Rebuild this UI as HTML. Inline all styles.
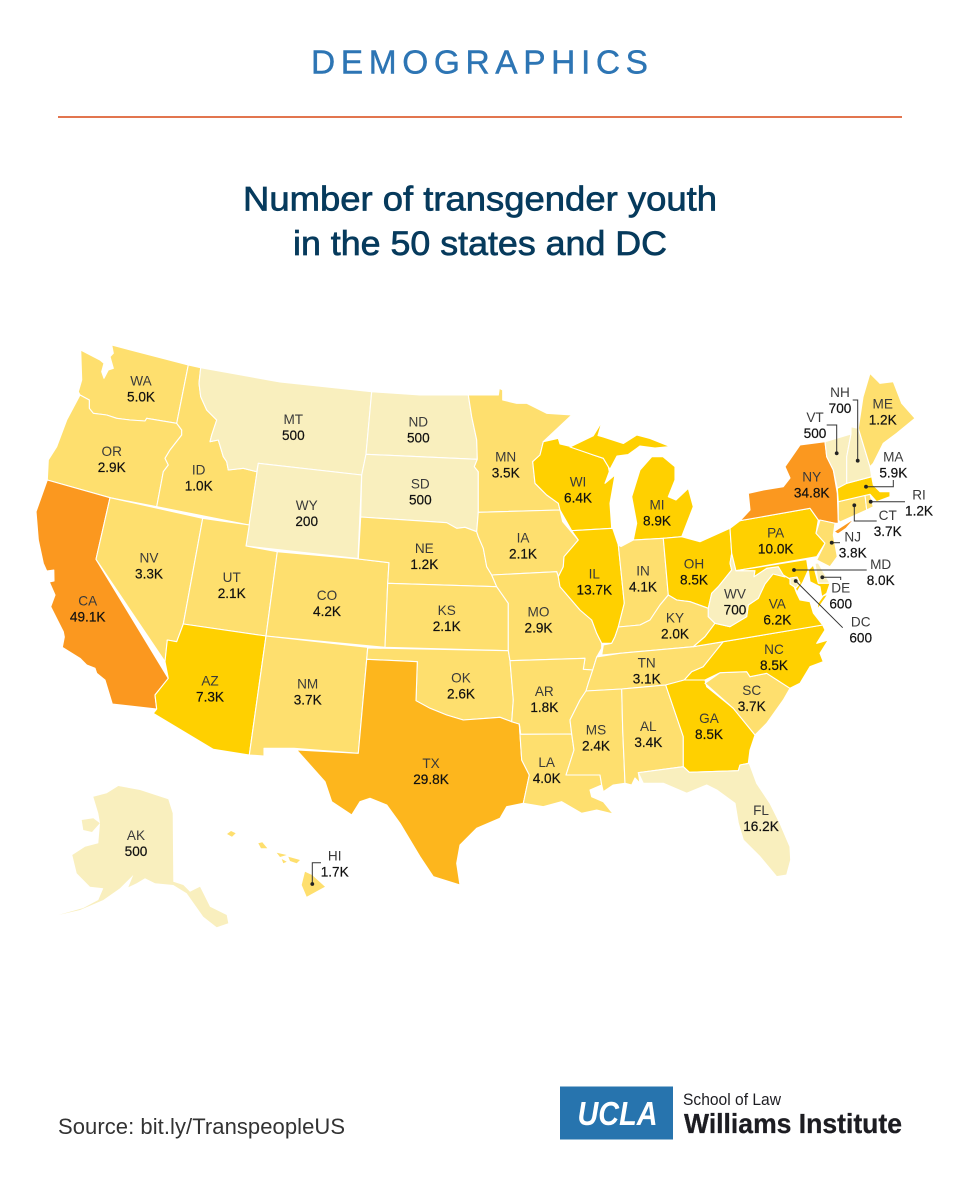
<!DOCTYPE html>
<html lang="en">
<head>
<meta charset="utf-8">
<title>Number of transgender youth in the 50 states and DC</title>
<style>
html,body{margin:0;padding:0;background:#fff}
svg{display:block}
text{font-family:"Liberation Sans",sans-serif}
.state{stroke:#fff;stroke-width:1.1;stroke-linejoin:round}
.code{font-size:13.6px;fill:#3a3a3a;text-anchor:middle}
.val{font-size:13.6px;fill:#111;text-anchor:middle;stroke:#111;stroke-width:.2}
.lead{fill:none;stroke:#333;stroke-width:1}
</style>
</head>
<body>
<svg id="chart" xmlns="http://www.w3.org/2000/svg" width="960" height="1200" viewBox="0 0 960 1200">
<rect width="960" height="1200" fill="#fff"/>
<text x="311" y="73.3" font-size="33.5" fill="#2d75b4" stroke="#2d75b4" stroke-width=".4" textLength="337" lengthAdjust="spacing">DEMOGRAPHICS</text>
<rect x="58" y="116" width="844" height="2" fill="#e2754f"/>
<text x="243" y="210.7" font-size="34" fill="#063a5c" stroke="#063a5c" stroke-width=".7" textLength="474" lengthAdjust="spacingAndGlyphs">Number of transgender youth</text>
<text x="293" y="255" font-size="34" fill="#063a5c" stroke="#063a5c" stroke-width=".7" textLength="374" lengthAdjust="spacingAndGlyphs">in the 50 states and DC</text>
<g id="states"></g>
<g id="leaders"></g>
<g id="labels"></g>
<text x="58" y="1134" font-size="22" fill="#333" textLength="287" lengthAdjust="spacing">Source: bit.ly/TranspeopleUS</text>
<g>
<rect x="560" y="1086.5" width="113" height="53" fill="#2774ae"/>
<text x="577.5" y="1125" font-size="33" font-weight="bold" font-style="italic" fill="#fff" textLength="80" lengthAdjust="spacingAndGlyphs">UCLA</text>
<text x="683" y="1105" font-size="17" fill="#1d1d22" textLength="98" lengthAdjust="spacingAndGlyphs">School of Law</text>
<text x="684" y="1133" font-size="27.5" font-weight="bold" fill="#1d1d22" stroke="#1d1d22" stroke-width=".3" textLength="218" lengthAdjust="spacingAndGlyphs">Williams Institute</text>
</g>
</svg>
<script>
const stateCodes = ["AK","HI","WA","OR","CA","ID","NV","MT","WY","UT","AZ","CO","NM","ND","SD","NE","KS","OK","TX","MN","IA","MO","AR","LA","WI","IL","MI","IN","OH","KY","TN","MS","AL","GA","FL","SC","NC","VA","WV","PA","NY","NJ","DE","MD","DC","CT","RI","MA","VT","NH","ME"];
const stateValues = [500,1700,5000,2900,49100,1000,3300,500,200,2100,7300,4200,3700,500,500,1200,2100,2600,29800,3500,2100,2900,1800,4000,6400,13700,8900,4100,8500,2000,3100,2400,3400,8500,16200,3700,8500,6200,700,10000,34800,3800,600,8000,600,3700,1200,5900,500,700,1200];
const colorBinLimits = [1000,5001,15000,30000];
const colorBinFills = ["#f9efbe","#fedf6e","#ffd000","#fdb61d","#fb981f"];
/* Florida is drawn in the palest class in the source graphic */
const binOverrides = {FL:0};
/* shapes drawn without a white outline (thin island / coastal forms) */
const unstrokedStates = ["AK","HI"];

/* geography: outlines of each state, in page pixels */
const stateShapes = {
AK:["93.3,796.7 106.7,793.3 118.3,786 140,790 168.3,799.3 172.7,813.3 173.3,881.7 183.3,885 190,891.7 200,886.7 210,906.7 226.7,915 228.3,923.3 216.7,927.3 203.3,916.7 186.7,893.3 173.3,885 155,883.3 145,878.3 136.7,883.3 128.3,887.3 133.3,875 120,888.3 103.3,900 80,910 58.3,915 83.3,908 98.3,900 103.3,888.3 90,886.7 76.7,873.3 72.3,855 85,846.7 98.3,843.3 100,823.3 93.3,818.3 81.7,820 83.3,830 92,832 100,823 98.3,813.3"],
HI:["305,871.7 312,875 325,886.7 306.7,896.7 301.7,885","288.3,856.7 300,860 296.7,863.3 290,861","276.7,852.7 286.7,855 280,857","281.7,859 286.7,861.7 283.3,863.3","258.3,843.3 262.3,842.3 267.3,848.3 261,848.3","227,834 231,831 235.7,833.3 232,836.7"],
WA:["80.7,350 100,360 104,363.3 101.7,371.7 104,378.3 108.3,370 113.3,368.3 110,356.7 113.3,353.3 111.7,345 188.3,365 176.7,423.3 146.7,418.3 145,421 130,420 116.7,418.3 106.7,415 93.3,413.3 89.3,408.3 89.3,400 80,395 78.3,391.7 81.7,380"],
OR:["80,395 89.3,400 89.3,408.3 93.3,413.3 106.7,415 116.7,418.3 130,420 145,421 146.7,418.3 176.7,423.3 181.7,430 181.7,435 170,450 165,458.3 168.3,465 163.3,471.7 156.7,506.7 110,497.7 47.3,480 48.3,460 56.7,446.7 66.7,420"],
CA:["47.3,480 110,497.7 96,559.3 168.3,678.3 155,695 156.7,709 112.3,704 105,680 96.7,673.3 95,668.3 86.7,665 80,658.3 62.3,647.3 64.3,637 63.3,631.7 50.7,606.7 55,595 49.3,582 54,581 53.8,570 46.7,571 43.3,563.3 38.3,540 36,511.7"],
ID:["188.3,365 200.7,367.7 199,383.3 200.7,396.7 206.7,410 216.7,420 211.7,435 210,441.7 218.3,440 223.3,456.7 226.7,461.7 228.3,470 243.3,468.3 256.7,471.7 258.3,463.3 249.3,525 156.7,506.7 163.3,471.7 168.3,465 165,458.3 170,450 181.7,435 181.7,430 176.7,423.3"],
NV:["110,497.7 202.7,518.3 183.3,624 176.7,641.7 167.3,640 165,661.7 96,559.3"],
MT:["200.7,367.7 280,382 371.7,391.7 366,454.3 361.7,475 258.3,463.3 256.7,471.7 243.3,468.3 228.3,470 226.7,461.7 223.3,456.7 218.3,440 210,441.7 211.7,435 216.7,420 206.7,410 200.7,396.7 199,383.3"],
WY:["258.3,463.3 361.7,475 358,558.5 246,546"],
UT:["202.7,518.3 249.3,525 246,546 277.3,551.7 266,636 183.3,624"],
AZ:["183.3,624 266,636 249.3,755 213.3,749.3 153.3,713.3 156.7,709 155,695 168.3,678.3 165,661.7 167.3,640 176.7,641.7"],
CO:["277.3,551.7 358.3,559 389,562.7 387.7,583.3 385,647.3 266,636"],
NM:["266,636 367.7,647.3 366.7,659.3 358.3,753.3 294,748.3 264,748.3 264,756 249.3,755"],
ND:["371.7,391.7 420,395 468.3,395 471.7,416.7 476.7,440 477.3,459.3 366,454.3"],
SD:["366,454.3 477.3,459.3 474.3,466.7 478.3,471.7 478.3,511.7 476.7,531.7 465,527.3 456.7,528.3 446.7,522.7 360.7,517 361.7,475"],
NE:["360.7,517 446.7,522.7 456.7,528.3 465,527.3 476.7,531.7 478.3,536.7 483.3,548.3 486.7,566.7 491.7,575 496.7,586.7 387.7,583.3 389,562.7 358.3,559"],
KS:["387.7,583.3 496.7,586.7 508.3,603.3 508.3,650.7 385,647.3"],
OK:["367.7,648 508.3,650.7 510,660.7 513.3,700 511.7,721.7 500,717.3 486.7,718.3 463.3,720 446.7,715 430,708.3 416,700.7 417.3,661.7 366.7,659.3"],
TX:["366.7,659.3 417.3,661.7 416,700.7 430,708.3 446.7,715 463.3,720 486.7,718.3 500,717.3 511.7,721.7 519.3,724 521.7,760 529.3,775 523.3,803.3 506.7,806.7 500,818.3 476.7,828.3 460,845 456.7,863.3 460,885 433.3,876.7 420,856.7 400,823.3 386.7,805 370,798.3 360,801.7 351.7,815 331.7,801.7 325,781.7 296.7,750 358.3,753.3"],
MN:["468.3,395 498.3,395 499.3,388.3 502.7,390 502.7,400 516.7,403.3 526.7,403.3 546.7,413.3 571.7,415 543.3,441.7 540,455 532.7,461.7 535,483.3 546.7,495 558.3,503.3 560,510 478.3,512.3 478.3,471.7 474.3,466.7 477.3,459.3 476.7,440 471.7,416.7"],
IA:["478.3,512.3 560,510 562.7,521.7 578.3,540 564,556.7 563.3,566.7 558.3,576.7 556.7,571.7 491.7,575 486.7,566.7 483.3,548.3 478.3,536.7 476.7,531.7"],
MO:["491.7,575 556.7,571.7 558.3,576.7 560,586.7 580,610 591.7,620 596.7,633.3 601.7,643.3 601.7,648.3 596.7,657 592.7,670 583.3,669.3 585,658.3 510,660.7 508.3,650.7 508.3,603.3 496.7,586.7"],
AR:["510,660.7 585,658.3 583.3,669.3 592.7,670 588.3,683.3 586,691 580,700 570,720 571.7,734 520.7,734.3 519.3,724 511.7,721.7 513.3,700"],
LA:["520.7,734.3 571.7,734 574,750 566,775 600,775 601.7,785 590,790 591.7,796.7 603.3,801.7 613.3,814 596.7,810 581.7,813.3 561.7,801.7 543.3,806.7 523.3,803.3 529.3,775 521.7,760 519.3,724"],
WI:["543.3,441.7 558.3,438.3 560,444 571.7,446.7 593.3,455 603.3,458.3 608.3,466.7 609.3,471.7 605,483.3 615,475 610,503.3 611.7,528.3 571.7,530.7 560,510 558.3,503.3 546.7,495 535,483.3 532.7,461.7 540,455"],
IL:["571.7,530.7 612.7,528.3 618.3,545 624.3,603.3 618.3,627 615,636.7 611.7,643.3 601.7,643.3 596.7,633.3 591.7,620 580,610 560,586.7 558.3,576.7 563.3,566.7 564,556.7 578.3,540"],
MI:["570,447 593.3,435.7 602,421.5 598,435.5 603.3,437 623.3,443.5 636.7,435 650,438.5 670,446.5 655,448 640,446 628.3,454.5 617,456 610,469.3 608.3,466.7 603.3,458.3 593.3,455","651.7,456.7 663,456.7 675,466.7 675,480 668.3,496.7 676,500 688.3,488.3 693.3,506.7 681.7,536.7 663.3,538.3 633.3,540 636.7,523.3 631.7,496.7 640,470"],
IN:["621,546.5 633.3,540 663.3,538.3 668.3,595 660,605 650,620 640,625 618.3,627 624.3,603.3 618.3,545"],
OH:["663.3,538.3 681.7,536.7 700,541.7 730,528.3 731.7,553.3 730,563.3 731.7,570 718.3,586.7 711.7,593.3 708.3,608.3 690,601.7 676.7,600 668.3,595"],
KY:["601.7,655 603.3,645 611.7,643.3 615,636.7 618.3,627 640,625 650,620 660,605 668.3,595 676.7,600 690,601.7 708.3,608.3 708.3,616.7 715,623.3 705,636.7 693.3,646.7 620,653.3"],
TN:["596.7,657 620,653.3 693.3,646.7 723.3,641.7 703.3,666.7 691.7,671.7 684.3,680 665.7,685 621.7,689 586,691 588.3,683.3 592.7,670"],
MS:["586,691 621.7,689 622.7,730 625,783.3 613.3,785 603.3,791.7 601.7,785 600,775 566,775 574,750 571.7,734 570,720 580,700"],
AL:["621.7,689 665.7,685 683.3,736.7 683.3,766.7 638.3,772.7 640,783.3 635,778 631.7,785 625,783.3 622.7,730"],
GA:["665.7,685 684.3,680 705,680 706.7,686.7 733.3,708.3 755,735 750,750 748.3,763.3 740,765 738.3,770.7 689.3,772.3 683.3,766.7 683.3,736.7"],
FL:["638.3,772.7 683.3,766.7 689.3,772.3 738.3,770.7 740,765 749.3,763.3 756.7,783.3 770,803.3 780,823.3 790,846.7 790.7,860 786.7,875 776.7,876.7 760,856.7 743.3,840 738.3,823.3 735,803.3 716.7,790 706.7,785 686.7,793.3 663.3,783.3 643.3,783.3"],
SC:["705,683.3 720,672.7 746.7,671.7 750,676.7 766.7,673.3 790,688.3 783.3,700 766.7,723.3 755,735 733.3,708.3"],
NC:["684.3,680 691.7,671.7 703.3,666.7 723.3,641.7 822.7,625 825,630 816.7,643.3 828.3,640 820,653.3 823.3,661.7 810,666.7 800,683.3 790,688.3 766.7,673.3 750,676.7 746.7,671.7 720,672.7 705,680"],
VA:["705,636.7 715,623.3 730,626.7 746.7,616.7 748.3,605 758.3,598.3 765,581.7 773.3,571.7 783.3,575 791.7,580 796.7,593.3 800,600 810,601.7 813.3,613 822.7,625 723.3,641.7 693.3,646.7","828,594 824,600 817,610 818,603 823,596"],
WV:["731.7,553.3 736,570.7 755,570.7 754,576.7 766.7,568.3 778.3,566.7 785,577 773,574 765,584 758.3,598.3 748.3,605 746.7,616.7 730,626.7 715,623.3 708.3,616.7 708.3,608.3 711.7,593.3 718.3,586.7 731.7,570 730,563.3"],
PA:["730,528.3 740,520.7 810,508.3 818.3,520 816,533.3 825,543.3 816.7,556.7 736,570.7 731.7,553.3"],
NY:["740,520.7 750,510 748.3,493.3 763.3,490 783.3,486.7 790,478 785,466.7 800,445 825,441.7 826.7,456.7 833.3,470 837.3,493.3 838.3,523.3 835,523.3 818.3,520 810,508.3","834,531.5 855,518 846,528.5 838,534"],
NJ:["820,520 835,523.3 833.3,535 837.3,556.7 830,566.7 816.7,560 825,543.3 816,533.3"],
DE:["815,563.3 818.3,563 830,583.3 818.3,583.3"],
MD:["736,570.7 806.7,559.5 808.3,570 803,582 797,592 791.7,580 783.3,575 778.3,566.7 766.7,568.3 754,576.7 755,570.7","808.3,570 813.3,565 818.3,583.3 830,583.3 826.7,593.3 821.7,596.7 820,586.7 810,581.7"],
DC:["790,578 797,577 800,583 796,588 790,584"],
CT:["838.3,501.7 865,495 866.7,510 840,522 838.3,520"],
RI:["865,495 870,494.3 873.3,506.7 866.7,510"],
MA:["837.3,488.3 846.7,483.3 871.7,476.7 873.3,485 880,491.7 890,491.7 890,496.7 876.7,501.7 870,494.3 838.3,501.7"],
VT:["825,441.7 851,434 846.7,456.7 846.7,483.3 837.3,488.3 833.3,470 826.7,456.7"],
NH:["851,426.7 858.3,428.3 870,466.7 871.7,476.7 846.7,483.3 846.7,456.7 851,434"],
ME:["858.3,428.3 863,397 870,373.3 880,383.3 893.3,381.7 901.7,403.3 915,418.3 896.7,433.3 883.3,443.3 873.3,463.3 870,466.7"]
};

/* label anchor: x centre, y centre of first text line */
const labelAnchors = {
AK:[136,835],HI:[334.7,855.3],WA:[141,380.7],OR:[111.7,451],CA:[87.7,600.7],ID:[198.7,469.3],NV:[149,557.3],MT:[293.3,419],WY:[306.7,505],UT:[231.7,577],AZ:[210,680.7],CO:[327,595],NM:[307.7,683.3],ND:[418.3,421.7],SD:[420.3,483.7],NE:[424.3,548],KS:[446.7,610],OK:[461,677.7],TX:[431,763],MN:[505.7,456.3],IA:[523,537.3],MO:[538.5,611.7],AR:[544.3,691],LA:[546.7,762],WI:[578,481.7],IL:[594.3,573.3],MI:[657,504.3],IN:[643,570.7],OH:[694,563.3],KY:[675,617.3],TN:[646.7,662.3],MS:[596,729.3],AL:[648.3,726],GA:[709,718],FL:[761,810],SC:[751.7,690],NC:[774,649],VA:[777.3,603.3],WV:[735,593.3],PA:[775.7,532.3],NY:[811.7,476.7],NJ:[852.7,536.7],DE:[840.7,587.7],MD:[880.7,564],DC:[860.7,621.7],CT:[887.7,515],RI:[919,494.7],MA:[893.3,456.7],VT:[815,417],NH:[840,392],ME:[882.7,403.3]
};

/* callout leader paths: label end first, dot end last */
const leaderPaths = {
VT:[[826.7,425],[836.7,425],[836.7,453.3]],
NH:[[852.7,400],[857.7,400],[857.7,460.7]],
MA:[[893.3,480],[893.3,486.7],[866,486.7]],
RI:[[905,501.7],[870.7,501.7]],
CT:[[876.7,521],[854.3,521],[854.3,505.3]],
NJ:[[840,542.7],[831.7,542.7]],
MD:[[866.7,570],[794,570]],
DE:[[840.7,580],[840.7,577.3],[822.3,577.3]],
DC:[[842.7,627.7],[795.7,581]],
HI:[[321,862.7],[312.3,862.7],[312.3,884]]
};

const SVG_NS = "http://www.w3.org/2000/svg";

function colorScale(code, value) {
  if (code in binOverrides) return colorBinFills[binOverrides[code]];
  let i = 0;
  while (i < colorBinLimits.length && value >= colorBinLimits[i]) i++;
  return colorBinFills[i];
}
function formatValue(value) {
  return value < 1000 ? String(value) : (value / 1000).toFixed(1) + "K";
}

const statesG = document.getElementById("states");
const labelsG = document.getElementById("labels");
const leadersG = document.getElementById("leaders");

stateCodes.forEach(function (code, i) {
  const value = stateValues[i];
  const d = stateShapes[code].map(function (ring) { return "M" + ring.trim().split(/\s+/).join("L") + "Z"; }).join("");
  const path = document.createElementNS(SVG_NS, "path");
  path.setAttribute("d", d);
  path.setAttribute("class", "state");
  if (unstrokedStates.indexOf(code) >= 0) path.style.stroke = "none";
  path.setAttribute("fill", colorScale(code, value));
  
  
  statesG.appendChild(path);

  const a = labelAnchors[code];
  const t1 = document.createElementNS(SVG_NS, "text");
  t1.setAttribute("class", "code");
  t1.setAttribute("x", a[0]);
  t1.setAttribute("y", a[1] + 5);
  t1.textContent = code;
  
  
  labelsG.appendChild(t1);

  const t2 = document.createElementNS(SVG_NS, "text");
  t2.setAttribute("class", "val");
  t2.setAttribute("x", a[0]);
  t2.setAttribute("y", a[1] + 21);
  t2.textContent = formatValue(value);
  
  
  labelsG.appendChild(t2);
});

Object.keys(leaderPaths).forEach(function (code) {
  const pts = leaderPaths[code];
  const line = document.createElementNS(SVG_NS, "polyline");
  line.setAttribute("class", "lead");
  line.setAttribute("points", pts.map(function (p) { return p.join(","); }).join(" "));
  
  
  leadersG.appendChild(line);
  const end = pts[pts.length - 1];
  const dot = document.createElementNS(SVG_NS, "circle");
  dot.setAttribute("cx", end[0]);
  dot.setAttribute("cy", end[1]);
  dot.setAttribute("r", 1.9);
  dot.setAttribute("fill", "#222");
  
  
  leadersG.appendChild(dot);
});
</script>
</body>
</html>
